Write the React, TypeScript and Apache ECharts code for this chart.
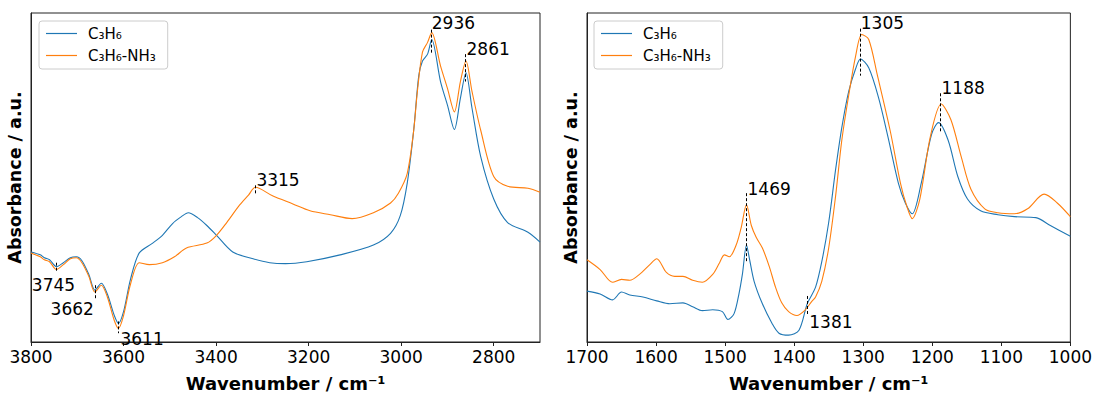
import React, { useEffect, useRef } from "react";
import * as echarts from "echarts";

// ---------- Data (absorbance in arbitrary units) ----------
const SERIES_NAMES = ["C₃H₆", "C₃H₆-NH₃"];

// Left panel: 3800–2700 cm⁻¹
const leftC3H6: [number, number][] = [
  [3800, 92], [3780, 89], [3771, 86], [3760, 84], [3745, 77], [3730, 81], [3715, 86], [3702, 87],
  [3690, 83], [3675, 69], [3662, 53], [3648, 60], [3635, 49], [3620, 27], [3611, 19], [3600, 31],
  [3585, 64], [3566, 91], [3537, 101], [3516, 109], [3494, 121], [3475, 128], [3460, 132], [3440, 127],
  [3420, 119], [3399, 109], [3364, 92], [3320, 85], [3284, 81], [3250, 80], [3204, 82], [3132, 89],
  [3060, 99], [3023, 111], [3002, 129], [2987, 162], [2973, 216], [2962, 272], [2954, 287], [2943, 294],
  [2934, 309], [2915, 266], [2900, 242], [2885, 217], [2872, 249], [2860, 275], [2847, 239], [2828, 189],
  [2800, 146], [2770, 122], [2726, 112], [2700, 102],
];
const leftC3H6NH3: [number, number][] = [
  [3800, 91], [3780, 87], [3771, 84], [3760, 82], [3745, 74], [3730, 79], [3715, 85], [3702, 86],
  [3690, 81], [3675, 67], [3662, 51], [3648, 58], [3635, 46], [3620, 22], [3611, 14], [3600, 27],
  [3585, 59], [3566, 81], [3544, 79], [3516, 81], [3490, 87], [3464, 96], [3420, 101], [3399, 109],
  [3377, 122], [3349, 140], [3330, 150], [3315, 158], [3277, 149], [3234, 141], [3197, 134], [3153, 130],
  [3106, 126], [3060, 132], [3023, 142], [3006, 152], [2987, 172], [2973, 216], [2965, 256], [2954, 296],
  [2943, 306], [2934, 316], [2915, 282], [2900, 259], [2885, 235], [2872, 266], [2860, 287], [2847, 256],
  [2828, 216], [2800, 169], [2770, 159], [2726, 157], [2700, 153],
];

// Right panel: 1700–1000 cm⁻¹
const rightC3H6: [number, number][] = [
  [1700, 52], [1681, 49], [1663, 43], [1650, 51], [1638, 48], [1619, 46], [1599, 42], [1580, 39],
  [1561, 40], [1547, 36], [1533, 32], [1518, 33], [1504, 31], [1496, 23], [1487, 29], [1480, 49],
  [1475, 69], [1469, 99], [1465, 86], [1458, 62], [1446, 39], [1432, 19], [1422, 9], [1408, 7],
  [1393, 12], [1381, 39], [1369, 56], [1360, 82], [1350, 122], [1340, 176], [1331, 219], [1321, 256],
  [1311, 279], [1304, 289], [1292, 280], [1278, 250], [1264, 209], [1249, 162], [1239, 142], [1229, 131],
  [1216, 162], [1201, 212], [1191, 224], [1177, 206], [1163, 169], [1149, 146], [1130, 134], [1105, 130],
  [1081, 128], [1050, 127], [1029, 119], [1000, 108],
];
const rightC3H6NH3: [number, number][] = [
  [1700, 84], [1681, 74], [1663, 61], [1650, 64], [1638, 63], [1624, 69], [1609, 79], [1599, 85],
  [1585, 71], [1573, 67], [1561, 67], [1547, 63], [1533, 61], [1518, 69], [1508, 81], [1501, 89],
  [1494, 87], [1484, 99], [1477, 116], [1469, 140], [1462, 119], [1455, 107], [1446, 96], [1436, 77],
  [1427, 56], [1418, 40], [1408, 31], [1396, 27], [1385, 32], [1375, 41], [1369, 46], [1360, 62],
  [1350, 96], [1340, 149], [1331, 206], [1321, 252], [1311, 292], [1302, 314], [1292, 309], [1280, 274],
  [1261, 216], [1246, 162], [1237, 139], [1229, 126], [1218, 146], [1203, 209], [1187, 243], [1173, 227],
  [1158, 189], [1144, 156], [1124, 136], [1105, 132], [1081, 131], [1062, 136], [1038, 151], [1019, 142],
  [1000, 128],
];

// Peak annotations
const leftPeakWavenumbers = [3745, 3662, 3611, 3315, 2936, 2861];
const leftPeakLineTop = [81, 58, 21, 160, 319, 294];
const leftPeakLineBottom = [71, 44, 9, 150, 294, 266];
const rightPeakWavenumbers = [1469, 1381, 1305, 1188];
const rightPeakLineTop = [152, 47, 320, 254];
const rightPeakLineBottom = [81, 27, 272, 214];

// Tick labels
const leftTicks = [3800, 3600, 3400, 3200, 3000, 2800];
const rightTicks = [1700, 1600, 1500, 1400, 1300, 1200, 1100, 1000];

// ---------- Label placement (style, not data) ----------
type Place = { at: "top" | "bottom"; align: string; vAlign: string; dx: number; dy: number };
const leftPlace: Place[] = [
  { at: "bottom", align: "center", vAlign: "top", dx: -3, dy: 4 },
  { at: "bottom", align: "right", vAlign: "top", dx: -1, dy: 2 },
  { at: "bottom", align: "left", vAlign: "top", dx: 2, dy: -3 },
  { at: "top", align: "left", vAlign: "bottom", dx: 1, dy: 3 },
  { at: "top", align: "left", vAlign: "bottom", dx: 1, dy: 2 },
  { at: "top", align: "left", vAlign: "bottom", dx: 1, dy: 3 },
];
const rightPlace: Place[] = [
  { at: "top", align: "left", vAlign: "bottom", dx: 1, dy: 4 },
  { at: "bottom", align: "left", vAlign: "top", dx: 2, dy: -2 },
  { at: "top", align: "left", vAlign: "bottom", dx: 1, dy: 3 },
  { at: "top", align: "left", vAlign: "bottom", dx: 1, dy: 3 },
];

const BLUE = "#1f77b4";
const ORANGE = "#ff7f0e";
const FONT = "DejaVu Sans";
const Y_MAX = 336;

function peakLines(ws: number[], tops: number[], bottoms: number[]) {
  return ws.map((w, i) => [{ coord: [w, tops[i]] }, { coord: [w, bottoms[i]] }]);
}

function peakLabels(ws: number[], tops: number[], bottoms: number[], place: Place[]) {
  return ws.map((w, i) => {
    const p = place[i];
    return {
      value: [w, p.at === "top" ? tops[i] : bottoms[i]],
      name: String(w),
      label: {
        show: true,
        position: "inside",
        formatter: String(w),
        align: p.align,
        verticalAlign: p.vAlign,
        offset: [p.dx, p.dy],
        color: "#000",
        opacity: 1,
        fontSize: 17,
        fontFamily: FONT,
      },
    };
  });
}

function xAxis(gridIndex: number, min: number, max: number, ticks: number[]) {
  return {
    type: "value",
    gridIndex,
    min,
    max,
    inverse: true,
    name: "Wavenumber / cm⁻¹",
    nameLocation: "middle",
    nameGap: 32,
    nameTextStyle: { fontFamily: FONT, fontWeight: "bold", fontSize: 18, color: "#000" },
    axisLine: { show: true, onZero: false, lineStyle: { color: "#222", width: 1 } },
    axisTick: { show: true, inside: false, length: 4, lineStyle: { color: "#222" }, customValues: ticks },
    axisLabel: {
      show: true,
      margin: 6,
      fontFamily: FONT,
      fontSize: 17,
      color: "#000",
      customValues: ticks,
      formatter: (v: number) => String(v),
    },
    splitLine: { show: false },
  };
}

function yAxis(gridIndex: number) {
  return {
    type: "value",
    gridIndex,
    min: 0,
    max: Y_MAX,
    name: "Absorbance / a.u.",
    nameLocation: "middle",
    nameGap: 7,
    nameTextStyle: { fontFamily: FONT, fontWeight: "bold", fontSize: 17.5, color: "#000" },
    axisLine: { show: true, lineStyle: { color: "#222", width: 1 } },
    axisTick: { show: false },
    axisLabel: { show: false },
    splitLine: { show: false },
  };
}

function lineSeries(name: string, color: string, data: [number, number][], idx: number, extra: any = {}) {
  return {
    type: "line",
    name,
    xAxisIndex: idx,
    yAxisIndex: idx,
    data,
    symbol: "none",
    smooth: 0.3,
    color,
    lineStyle: { color, width: 1.1 },
    silent: true,
    ...extra,
  };
}

function markLineOf(ws: number[], tops: number[], bottoms: number[]) {
  return {
    markLine: {
      silent: true,
      symbol: ["none", "none"],
      label: { show: false },
      lineStyle: { type: [3, 2], color: "#000", width: 1, opacity: 1 },
      data: peakLines(ws, tops, bottoms),
    },
  };
}

function legend(left: number) {
  return {
    left,
    top: 21,
    orient: "vertical",
    data: SERIES_NAMES.map((n) => ({ name: n, icon: "rect" })),
    selectedMode: false,
    itemWidth: 31,
    itemHeight: 1.2,
    itemGap: 7,
    padding: [5, 12, 6, 7],
    backgroundColor: "rgba(255,255,255,0.8)",
    borderColor: "#cccccc",
    borderWidth: 1,
    borderRadius: 3,
    textStyle: { fontFamily: FONT, fontSize: 15, color: "#000", padding: [0, 0, 0, 6] },
  };
}

function labelSeries(idx: number, data: any[]) {
  return {
    type: "scatter",
    xAxisIndex: idx,
    yAxisIndex: idx,
    symbolSize: 0,
    silent: true,
    itemStyle: { opacity: 1 },
    data,
  };
}

export default function App() {
  const ref = useRef<HTMLDivElement>(null);
  useEffect(() => {
    if (!ref.current) return;
    const chart = echarts.init(ref.current, undefined, { renderer: "svg" });
    const option: any = {
      animation: false,
      backgroundColor: "#fff",
      textStyle: { fontFamily: FONT },
      grid: [
        { left: 31, top: 13, width: 509, height: 336, show: true, borderColor: "#222", borderWidth: 1 },
        { left: 587, top: 13, width: 486, height: 336, show: true, borderColor: "#222", borderWidth: 1 },
      ],
      legend: [legend(39), legend(594)],
      xAxis: [xAxis(0, 2700, 3800, leftTicks), xAxis(1, 1000, 1700, rightTicks)],
      yAxis: [yAxis(0), yAxis(1)],
      series: [
        lineSeries(SERIES_NAMES[0], BLUE, leftC3H6, 0),
        lineSeries(SERIES_NAMES[1], ORANGE, leftC3H6NH3, 0,
          markLineOf(leftPeakWavenumbers, leftPeakLineTop, leftPeakLineBottom)),
        lineSeries(SERIES_NAMES[0], BLUE, rightC3H6, 1),
        lineSeries(SERIES_NAMES[1], ORANGE, rightC3H6NH3, 1,
          markLineOf(rightPeakWavenumbers, rightPeakLineTop, rightPeakLineBottom)),
        labelSeries(0, peakLabels(leftPeakWavenumbers, leftPeakLineTop, leftPeakLineBottom, leftPlace)),
        labelSeries(1, peakLabels(rightPeakWavenumbers, rightPeakLineTop, rightPeakLineBottom, rightPlace)),
      ],
    };
    chart.setOption(option);
    return () => chart.dispose();
  }, []);
  return (
    <div
      ref={ref}
      style={{ position: "fixed", left: 0, top: 0, width: 1095, height: 397, background: "#fff" }}
    />
  );
}
